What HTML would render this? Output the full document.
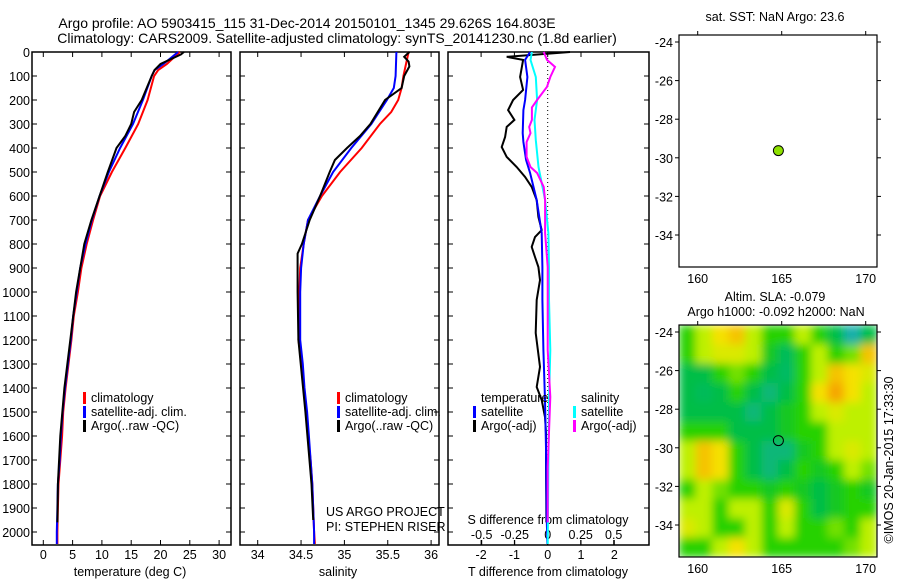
<!DOCTYPE html>
<html><head><meta charset="utf-8"><style>
body{margin:0;background:#fff}
svg{display:block;font-family:"Liberation Sans",sans-serif;font-size:12.5px}
</style></head><body>
<svg id="c" width="900" height="580" viewBox="0 0 900 580">
<defs>
<filter id="blur" x="0" y="0" width="1" height="1"><feGaussianBlur stdDeviation="4.5" edgeMode="duplicate"/></filter>
<clipPath id="mapclip"><rect x="679" y="325" width="198" height="232"/></clipPath>
</defs>
<text x="307" y="28" text-anchor="middle" font-size="14">Argo profile: AO 5903415_115 31-Dec-2014 20150101_1345 29.626S 164.803E</text>
<text x="337" y="43" text-anchor="middle" font-size="14">Climatology: CARS2009. Satellite-adjusted climatology: synTS_20141230.nc (1.8d earlier)</text>
<g id="g"></g>
</svg>
<script>
// ---- data ----
const tDepth=[0,50,75,100,200,300,400,500,600,700,800,900,1000,1100,1200,1300,1400,1500,1600,1700,1800,1900,2000,2050];
const tClim=[23.3,21.1,19.6,18.9,17.8,16.2,14.0,11.7,9.7,8.5,7.4,6.5,5.9,5.2,4.8,4.3,3.8,3.4,3.2,2.9,2.6,2.5,2.4,2.4];
const tSat=[23.0,20.5,19.0,18.5,17.0,15.3,13.1,11.2,9.6,8.3,7.2,6.3,5.7,5.1,4.7,4.2,3.7,3.3,3.0,2.8,2.5,2.4,2.3,2.3];
const argoTDepth=[0,10,50,75,100,200,250,300,350,400,500,600,700,800,900,1000,1200,1400,1600,1800,1960];
const argoT=[24.0,23.5,20.0,19.0,18.5,16.8,15.5,15.0,14.0,12.5,11.0,9.6,8.2,7.0,6.3,5.6,4.6,3.6,2.9,2.5,2.4];
const sDepth=[0,100,150,200,250,300,400,500,600,700,800,900,1000,1100,1200,1300,1400,1500,1600,1700,1800,1900,2000,2050];
const sClim=[35.74,35.68,35.66,35.62,35.54,35.41,35.20,34.95,34.74,34.58,34.53,34.49,34.48,34.48,34.47,34.51,34.53,34.56,34.58,34.61,34.63,34.64,34.65,34.66];
const sSat=[35.60,35.59,35.57,35.49,35.40,35.31,35.08,34.87,34.72,34.58,34.53,34.50,34.49,34.49,34.49,34.52,34.54,34.57,34.59,34.61,34.63,34.64,34.65,34.65];
const argoSDepth=[0,20,40,60,100,150,200,300,350,400,450,500,600,700,800,840,1000,1200,1500,1800,1950];
const argoS=[35.75,35.69,35.74,35.75,35.69,35.66,35.47,35.30,35.18,35.03,34.89,34.83,34.72,34.60,34.51,34.46,34.46,34.47,34.55,34.62,34.64];
const dTDepthA=[0,20,33,104,158,200,242,283,312,354,396,437,479,521,562,617,687,742,771,812,854,896,950,1033,1171,1312,1396,1450,1521,1587,1700,1960];
const dTArgo=[0.67,-1.23,-0.74,-0.83,-0.74,-1.04,-1.19,-1.0,-1.23,-1.28,-1.38,-1.23,-0.93,-0.68,-0.48,-0.33,-0.28,-0.18,-0.38,-0.48,-0.38,-0.28,-0.23,-0.33,-0.36,-0.23,-0.33,-0.18,-0.08,-0.05,-0.05,-0.04];
const dTDepthS=[0,33,104,200,242,338,375,450,504,617,754,896,1033,1242,1450,1650,1937,2050];
const dTSat=[-0.53,-0.68,-0.61,-0.68,-0.73,-0.75,-0.73,-0.65,-0.53,-0.33,-0.18,-0.16,-0.16,-0.13,-0.08,-0.05,-0.03,-0.01];
const dSDepthS=[0,33,104,200,283,367,479,617,754,896,1033,1242,1450,1729,2050];
const dSSat=[-0.12,-0.13,-0.09,-0.08,-0.10,-0.09,-0.07,-0.02,0.005,0.01,0.01,0.02,0.01,0.005,0.0];
const dSDepthA=[0,33,62,104,145,200,231,283,312,338,375,437,479,504,562,617,687,754,825,896,1033,1242,1437,1729,1960];
const dSArgo=[-0.03,-0.005,0.055,0.02,-0.005,-0.08,-0.12,-0.12,-0.14,-0.13,-0.16,-0.16,-0.13,-0.08,-0.03,-0.02,-0.02,-0.02,-0.01,0,0,0,0.02,0,0];
const depthTicks=[0,100,200,300,400,500,600,700,800,900,1000,1100,1200,1300,1400,1500,1600,1700,1800,1900,2000];
const tTicks=[0,5,10,15,20,25,30];
const sTicks=[34,34.5,35,35.5,36];
const sTickLabels=["34","34.5","35","35.5","36"];
const dTTicks=[-2,-1,0,1,2];
const dSTicks=[-0.5,-0.25,0,0.25,0.5];
const dSTickLabels=["-0.5","-0.25","0","0.25","0.5"];
const lonTicks=[160,165,170];
const latTicks=[-24,-26,-28,-30,-32,-34];
const argoLon=164.803, argoLat=-29.626;
const slaGrid=[
[2,3,4,4.5,3,2,2,3,2,1,0,1],
[2,3,3.5,3.5,3,1.5,0.8,2,3,2,2.5,4.5],
[1,1,2,2.5,2,1,0.7,2,3,4.5,4,3.5],
[1,0.8,1,2,1,0.5,1,2,4,5,4,3],
[1,1,1,1,0.5,1,1.5,2,3,3.5,3,3],
[2,2,2,1,1,1,1.5,2,2,3,3,3],
[3,4.5,4,2,1,0.5,0.5,1.5,2,3,3.5,3],
[3,4.5,4,2,1,0.5,1,2,1.5,2,3,2.5],
[2,3,2.5,2,2,1.5,2,1.5,1,1.5,2,1.5],
[3,3,2,3,3,2,3.5,2,1,1.5,2,2],
[3.5,3,2,2,3,2,3,2,2,2.5,2,3],
[2,2,3,4,3,2,2,2,2,2,2.5,3]];

// ---- helpers ----
const NS="http://www.w3.org/2000/svg", G=document.getElementById('g');
function el(tag,attrs,parent){const e=document.createElementNS(NS,tag);for(const k in attrs)e.setAttribute(k,attrs[k]);(parent||G).appendChild(e);return e;}
function txt(x,y,s,anchor,parent){const e=el('text',{x:x,y:y,'text-anchor':anchor||'middle'},parent);e.textContent=s;return e;}
const yD=d=>52+d*0.24;
const xT=t=>43.3+t*5.86;
const xS=s=>257.7+(s-34)*86.7;
const xDT=d=>547.7+d*33.3;
const xDS=s=>547.7+s*132;
function line(xs,ds,fx,color,name){
  const p=xs.map((v,i)=>fx(v).toFixed(1)+','+yD(ds[i]).toFixed(1)).join(' ');
  const e=el('polyline',{points:p,fill:'none',stroke:color,'stroke-width':2});
  
  
}
function frame(x0,x1,name){
  const r=el('rect',{x:x0,y:52,width:x1-x0,height:493,fill:'none',stroke:'#000','stroke-width':1.5});
  
  
  depthTicks.forEach(d=>{el('line',{x1:x0,x2:x0+5,y1:yD(d),y2:yD(d),stroke:'#000'});el('line',{x1:x1,x2:x1-5,y1:yD(d),y2:yD(d),stroke:'#000'});});
}
function legend(x,y,color,label){
  const b=el('rect',{x:x,y:y-6,width:3,height:12,fill:color});
  
  
  const t=txt(x+8,y+4,label,'start');
  
  
}

// ---- panel 1: temperature ----
frame(32,231,'temperature-panel');
depthTicks.forEach(d=>{const t=txt(30,yD(d)+5,String(d),'end');});
tTicks.forEach(v=>{el('line',{x1:xT(v),x2:xT(v),y1:545,y2:540,stroke:'#000'});el('line',{x1:xT(v),x2:xT(v),y1:52,y2:57,stroke:'#000'});const t=txt(xT(v),559,String(v));});
{const t=txt(130,576,'temperature (deg C)');}
line(tClim,tDepth,xT,'#f00','temperature-climatology');
line(tSat,tDepth,xT,'#00f','temperature-satellite-clim');
line(argoT,argoTDepth,xT,'#000','temperature-argo');
legend(83,398,'#f00','climatology');legend(83,412,'#00f','satellite-adj. clim.');legend(83,426,'#000','Argo(..raw -QC)');

// ---- panel 2: salinity ----
frame(240,439,'salinity-panel');
sTicks.forEach((v,i)=>{el('line',{x1:xS(v),x2:xS(v),y1:545,y2:540,stroke:'#000'});el('line',{x1:xS(v),x2:xS(v),y1:52,y2:57,stroke:'#000'});const t=txt(xS(v),559,sTickLabels[i]);});
{const t=txt(338,576,'salinity');}
line(sClim,sDepth,xS,'#f00','salinity-climatology');
line(sSat,sDepth,xS,'#00f','salinity-satellite-clim');
line(argoS,argoSDepth,xS,'#000','salinity-argo');
legend(337,398,'#f00','climatology');legend(337,412,'#00f','satellite-adj. clim.');legend(337,426,'#000','Argo(..raw -QC)');
{const t=txt(326,516,'US ARGO PROJECT','start');
 const u=txt(326,531,'PI: STEPHEN RISER','start');}

// ---- panel 3: differences ----
frame(448,649,'difference-panel');
el('line',{x1:xDT(0),x2:xDT(0),y1:58,y2:545,stroke:'#000','stroke-dasharray':'1,3'});
dTTicks.forEach(v=>{el('line',{x1:xDT(v),x2:xDT(v),y1:545,y2:540,stroke:'#000'});el('line',{x1:xDT(v),x2:xDT(v),y1:52,y2:57,stroke:'#000'});const t=txt(xDT(v),559,String(v));});
dSTicks.forEach((v,i)=>{el('line',{x1:xDS(v),x2:xDS(v),y1:545,y2:540,stroke:'#000'});const t=txt(xDS(v),539,dSTickLabels[i]);});
{const t=txt(548,576,'T difference from climatology');
 const u=txt(548,524,'S difference from climatology');}
line(dTArgo,dTDepthA,xDT,'#000','t-diff-argo');
line(dTSat,dTDepthS,xDT,'#00f','t-diff-satellite');
line(dSSat,dSDepthS,xDS,'#0ff','s-diff-satellite');
line(dSArgo,dSDepthA,xDS,'#f0f','s-diff-argo');
{const t=txt(481,402,'temperature','start');
 const u=txt(581,402,'salinity','start');}
legend(473,412,'#00f','satellite');legend(473,426,'#000','Argo(-adj)');
legend(573,412,'#0ff','satellite');legend(573,426,'#f0f','Argo(-adj)');

// ---- maps ----
function mapAxes(top,bottom,latRef,name){
  const lx=lon=>697.7+(lon-160)*16.8;
  const ly=lat=>latRef+(-24-lat)*19.3;
  const r=el('rect',{x:679,y:top,width:198,height:bottom-top,fill:'none',stroke:'#000','stroke-width':1.2});
  
  
  lonTicks.forEach(v=>{el('line',{x1:lx(v),x2:lx(v),y1:top,y2:top-4,stroke:'#000'});const t=txt(lx(v),bottom+16,String(v));});
  latTicks.forEach(v=>{el('line',{x1:877,x2:881,y1:ly(v),y2:ly(v),stroke:'#000'});el('line',{x1:679,x2:675,y1:ly(v),y2:ly(v),stroke:'#000'});const t=txt(673,ly(v)+5,String(v),'end');});
  return {lx,ly};
}
// SST map
const m1=mapAxes(35,267,42,'sst-map');
{const t=txt(775,21,'sat. SST: NaN Argo: 23.6');}
{const c=el('circle',{cx:m1.lx(argoLon),cy:m1.ly(argoLat),r:5,fill:'#8de000',stroke:'#000'});}

// SLA map
const stops=[[20,175,170],[0,190,70],[40,210,0],[190,240,0],[245,225,0],[245,165,0]];
function cmap(v){const i=Math.max(0,Math.min(4,Math.floor(v)));const f=Math.max(0,Math.min(1,v-i));const a=stops[i],b=stops[i+1];return 'rgb('+a.map((c,k)=>Math.round(c+(b[k]-c)*f)).join(',')+')';}
const cg=el('g',{'clip-path':'url(#mapclip)'});
const hg=el('g',{filter:'url(#blur)'},cg);
const nR=slaGrid.length,nC=slaGrid[0].length,cw=198/nC,ch=232/nR;
slaGrid.forEach((row,r)=>row.forEach((v,c)=>{
  const e=el('rect',{x:679+c*cw,y:325+r*ch,width:cw+0.5,height:ch+0.5,fill:cmap(v)},hg);
  
  
}));
const m2=mapAxes(325,557,332,'sla-map');
{const t=txt(775,301,'Altim. SLA: -0.079');
 const u=txt(776,316,'Argo h1000: -0.092 h2000: NaN');}
{const c=el('circle',{cx:m2.lx(argoLon),cy:m2.ly(argoLat),r:5,fill:'none',stroke:'#000'});}
{const t=el('text',{x:0,y:0,'text-anchor':'middle',transform:'translate(893,460) rotate(-90)'});t.textContent='©IMOS 20-Jan-2015 17:33:30';}
</script>
</body></html>
